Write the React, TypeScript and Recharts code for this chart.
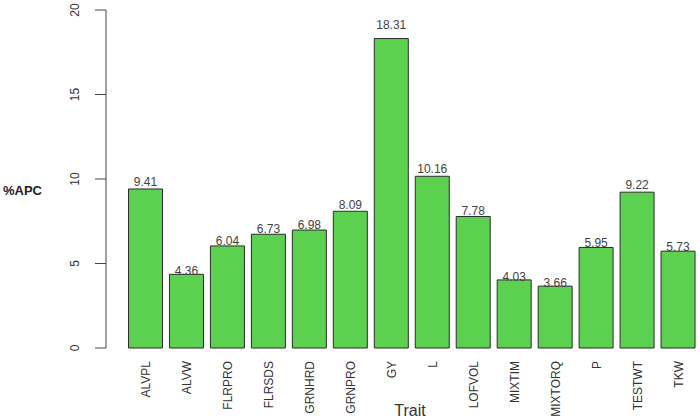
import { Bar, BarChart, LabelList, XAxis, YAxis } from 'recharts'

const traits = [
  'ALVPL', 'ALVW', 'FLRPRO', 'FLRSDS', 'GRNHRD', 'GRNPRO', 'GY',
  'L', 'LOFVOL', 'MIXTIM', 'MIXTORQ', 'P', 'TESTWT', 'TKW',
]
const apc = [9.41, 4.36, 6.04, 6.73, 6.98, 8.09, 18.31, 10.16, 7.78, 4.03, 3.66, 5.95, 9.22, 5.73]
const yTicks = [0, 5, 10, 15, 20]

const data = traits.map((trait, i) => ({ trait, apc: apc[i] }))

const textColor = '#333'
const font = 'Liberation Sans, Arial, sans-serif'

function YTick({ y, payload }: { y?: number; payload?: { value: number } }) {
  return (
    <text
      transform={`translate(79,${y}) rotate(-90)`}
      textAnchor="middle"
      fontSize={12}
      fontFamily={font}
      fill={textColor}
    >
      {payload?.value}
    </text>
  )
}

function XTick({ x, payload }: { x?: number; payload?: { value: string } }) {
  return (
    <text
      transform={`translate(${(x ?? 0) + 4.5},361) rotate(-90)`}
      textAnchor="end"
      fontSize={12}
      fontFamily={font}
      fill={textColor}
    >
      {payload?.value}
    </text>
  )
}

function ValueLabel(props: any) {
  const { x, y, width, height, value } = props
  // label centred a little above the bar, proportional to its height
  const cy = y - height * 0.045
  return (
    <text
      x={x + width / 2}
      y={cy}
      textAnchor="middle"
      dominantBaseline="central"
      fontSize={12}
      fontFamily={font}
      fill="#444"
    >
      {Number(value).toFixed(2)}
    </text>
  )
}

function YTitle() {
  return (
    <text x={3} y={190} dominantBaseline="central" fontSize={13} fontWeight={700} fontFamily={font} fill="#222">
      %APC
    </text>
  )
}

export default function App() {
  return (
    <div style={{ position: 'absolute', left: 0, top: 0, background: '#fff', width: 700, height: 419 }}>
      <BarChart
        width={700}
        height={419}
        data={data}
        margin={{ top: 10, right: 0, bottom: 0, left: 0 }}
      >
        <XAxis
          dataKey="trait"
          axisLine={false}
          tickLine={false}
          interval={0}
          height={71}
          padding={{ left: 19.5, right: 1 }}
          tick={<XTick />}
          label={{
            value: 'Trait',
            position: 'insideBottom',
            offset: 3,
            dx: 7,
            fontSize: 16,
            fontFamily: font,
            fill: textColor,
          }}
        />
        <YAxis
          width={106}
          domain={[0, 20]}
          ticks={yTicks}
          tickSize={11}
          stroke="#444"
          tick={<YTick />}
          label={{ content: <YTitle /> }}
        />
        <Bar
          dataKey="apc"
          fill="#5cd150"
          stroke="#2b2b2b"
          strokeWidth={1}
          barSize={34}
          isAnimationActive={false}
        >
          <LabelList dataKey="apc" content={<ValueLabel />} />
        </Bar>
      </BarChart>
    </div>
  )
}
